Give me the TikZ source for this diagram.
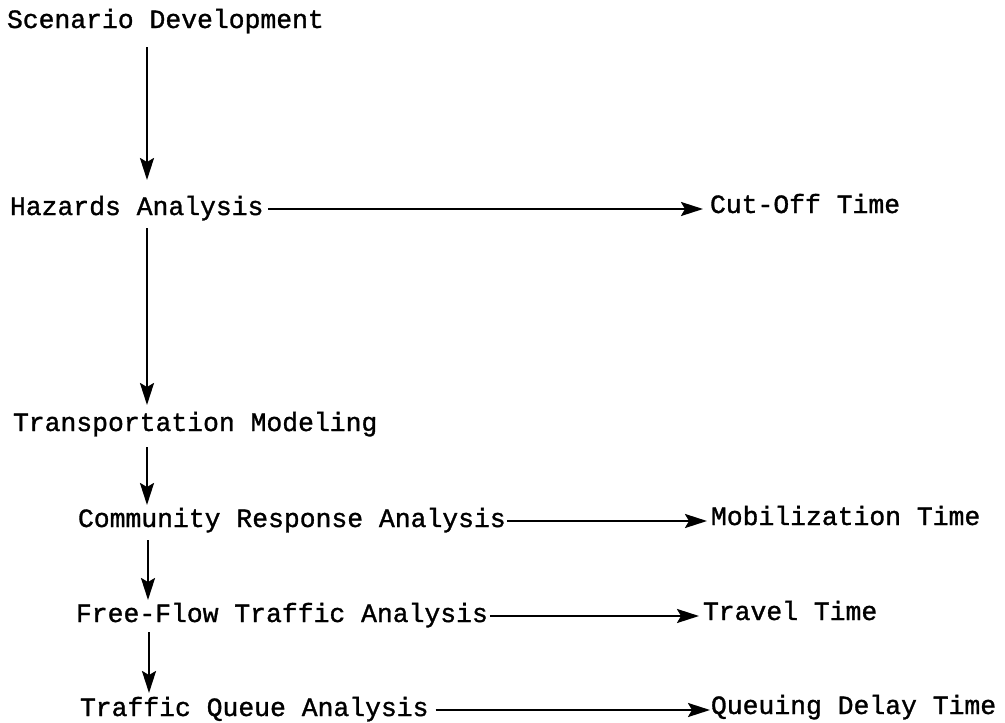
\documentclass[tikz,border=0pt]{standalone}
\usepackage{fontspec}
\setmonofont{Liberation Mono}[FakeBold=1.2]
\usetikzlibrary{arrows.meta}
\tikzset{
  lbl/.style={anchor=base west, inner sep=0pt, outer sep=0pt,
    font=\ttfamily\fontsize{26.4}{30}\selectfont,
    text height=17pt, text depth=5pt},
  flow/.style={line width=2.4pt, -{Stealth[length=22pt,width=14pt,inset=4pt]}}
}
\begin{document}
\begin{tikzpicture}[x=1pt,y=-1pt]
  \useasboundingbox (0,0) rectangle (1005,723);
  \coordinate (spine) at (147,0);

  % process chain, left column
  \node[lbl] (scen)  at (7,28)   {Scenario Development};
  \node[lbl] (haz)   at (10,215) {Hazards Analysis};
  \node[lbl] (trans) at (13,431) {Transportation Modeling};
  \node[lbl] (comm)  at (78,527) {Community Response Analysis};
  \node[lbl] (free)  at (76,622) {Free-Flow Traffic Analysis};
  \node[lbl] (queue) at (80,716) {Traffic Queue Analysis};

  % resulting times, right column
  \node[lbl] (cut)   at (710,213) {Cut-Off Time};
  \node[lbl] (mob)   at (711,525) {Mobilization Time};
  \node[lbl] (trav)  at (703,620) {Travel Time};
  \node[lbl] (qdel)  at (711,714) {Queuing Delay Time};

  % vertical flow
  \draw[flow, shorten <=14pt, shorten >=18pt] (spine |- scen.south) -- (spine |- haz.north);
  \draw[flow, shorten <=8pt,  shorten >=9pt]  (spine |- haz.south)  -- (spine |- trans.north);
  \draw[flow, shorten <=11pt, shorten >=5pt]  (spine |- trans.south) -- (spine |- comm.north);
  \draw[flow, shorten <=8pt,  shorten >=5pt]  ([xshift=1pt]spine |- comm.south) -- ([xshift=1pt]spine |- free.north);
  \draw[flow, shorten <=5pt,  shorten >=6pt]  ([xshift=2pt]spine |- free.south) -- ([xshift=2pt]spine |- queue.north);

  % horizontal outputs
  \draw[flow, shorten <=5pt, shorten >=7pt] (haz.east)   -- (haz.east -| cut.west);
  \draw[flow, shorten <=1pt, shorten >=4pt] (comm.east)  -- (comm.east -| mob.west);
  \draw[flow, shorten <=2pt, shorten >=4pt] (free.east)  -- (free.east -| trav.west);
  \draw[flow, shorten <=7pt, shorten >=1pt] (queue.east) -- (queue.east -| qdel.west);
\end{tikzpicture}
\end{document}
